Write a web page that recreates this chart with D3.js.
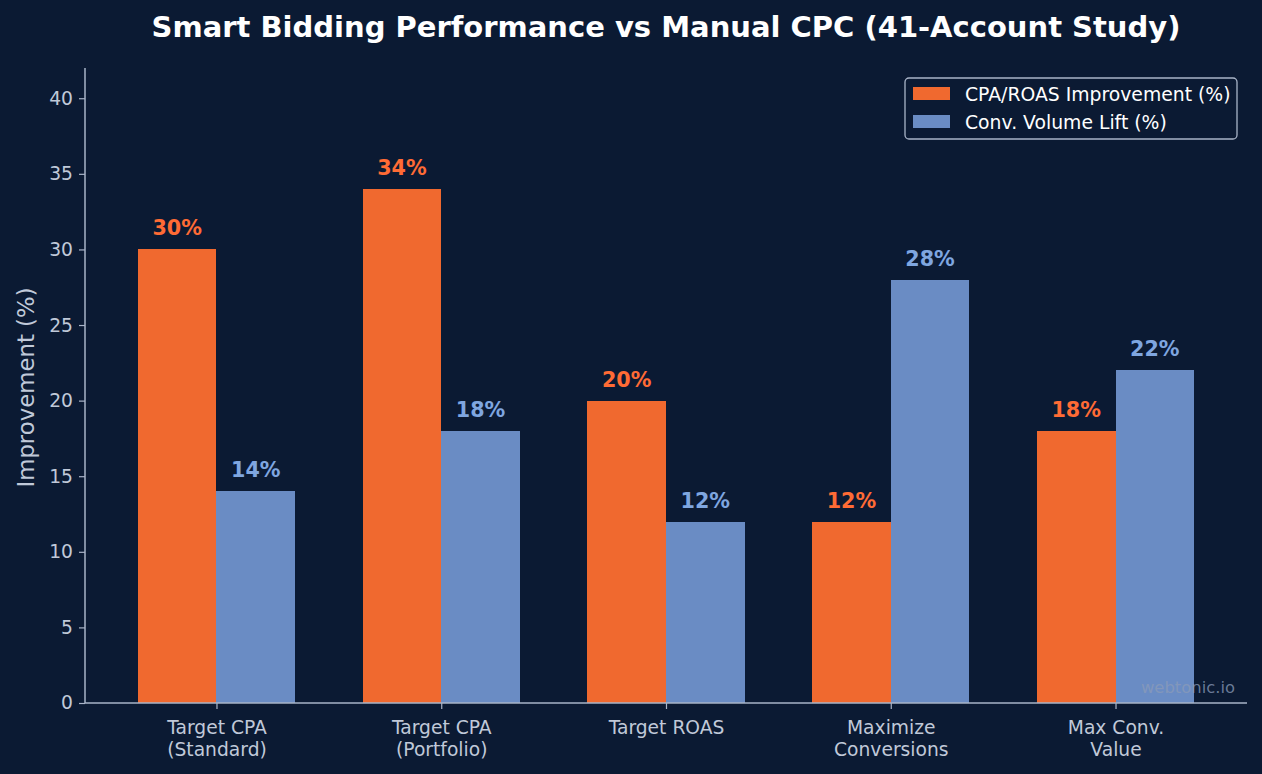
<!DOCTYPE html>
<html>
<head>
<meta charset="utf-8">
<script src="https://cdn.jsdelivr.net/npm/d3@7"></script>
<style>
  html, body { margin: 0; padding: 0; background: #0b1a33; }
  svg { display: block; font-family: "DejaVu Sans", sans-serif; }
</style>
</head>
<body>
<svg id="chart" width="1262" height="774"></svg>
<script>
const categories = [["Target CPA", "(Standard)"], ["Target CPA", "(Portfolio)"], ["Target ROAS"], ["Maximize", "Conversions"], ["Max Conv.", "Value"]];
const cpaRoas = [30, 34, 20, 12, 18];
const convLift = [14, 18, 12, 28, 22];
const seriesNames = ["CPA/ROAS Improvement (%)", "Conv. Volume Lift (%)"];
const yTicks = [0, 5, 10, 15, 20, 25, 30, 35, 40];

(function () {
const W = 1262, H = 774;
const bg = "#0b1a33";
const orange = "#f0692f", blue = "#6a8cc4";
const orangeText = "#ff6b35", blueText = "#7fa6e0";
const axisCol = "#a9b4c8", tickText = "#c0c9d9";

const svg = d3.select("#chart");
svg.append("rect").attr("width", W).attr("height", H).attr("fill", bg);

const mLeft = 85, mRight = 1247, mTop = 68, mBottom = 703;
const x = d3.scaleLinear().domain([-0.585, categories.length - 1 + 0.585]).range([mLeft, mRight]);
const y = d3.scaleLinear().domain([0, 42]).range([mBottom, mTop]);
const bw = 0.35;

const g = svg.append("g");

const series = [cpaRoas, convLift];
const cols = [orange, blue];
const txtCols = [orangeText, blueText];
series.forEach((vals, s) => {
  const off = s === 0 ? -bw : 0;
  g.selectAll(null).data(vals).enter().append("rect")
    .attr("x", (d, i) => x(i + off))
    .attr("width", (d, i) => x(i + off + bw) - x(i + off))
    .attr("y", d => y(d))
    .attr("height", d => y(0) - y(d))
    .attr("shape-rendering", "crispEdges")
    .attr("fill", cols[s]);
  g.selectAll(null).data(vals).enter().append("text")
    .attr("x", (d, i) => x(i + off + bw / 2))
    .attr("y", d => y(d) - 14)
    .attr("text-anchor", "middle")
    .attr("font-size", 20.7)
    .attr("font-weight", "bold")
    .attr("fill", txtCols[s])
    .text(d => d + "%");
});

const yAxis = d3.axisLeft(y).tickValues(yTicks).tickSize(6).tickPadding(6);
const ya = svg.append("g").attr("transform", `translate(${mLeft},0)`).call(yAxis);
ya.select(".domain").attr("stroke", axisCol).attr("stroke-width", 1.5).attr("d", `M0,${mTop}V${mBottom}`);
ya.selectAll(".tick line").attr("stroke", axisCol).attr("stroke-width", 1.2);
ya.selectAll(".tick text").attr("fill", tickText).attr("font-size", 18.7).attr("font-family", "DejaVu Sans");

const xAxis = d3.axisBottom(x).tickValues(d3.range(categories.length)).tickSize(6).tickFormat("");
const xa = svg.append("g").attr("transform", `translate(0,${mBottom})`).call(xAxis);
xa.select(".domain").attr("stroke", axisCol).attr("stroke-width", 1.5).attr("d", `M${mLeft},0H${mRight}`);
xa.selectAll(".tick line").attr("stroke", axisCol).attr("stroke-width", 1.2);
xa.selectAll(".tick").each(function(d) {
  const t = d3.select(this).append("text")
    .attr("fill", tickText).attr("font-size", 18.7).attr("text-anchor", "middle")
    .attr("font-family", "DejaVu Sans");
  categories[d].forEach((line, k) => {
    t.append("tspan").attr("x", 0).attr("y", 31 + k * 22.4).text(line);
  });
});

svg.append("text")
  .attr("transform", `translate(34,${(mTop + mBottom) / 2 + 2}) rotate(-90)`)
  .attr("text-anchor", "middle")
  .attr("font-size", 22.8)
  .attr("fill", tickText)
  .text("Improvement (%)");

svg.append("text")
  .attr("x", 666).attr("y", 37)
  .attr("text-anchor", "middle")
  .attr("font-size", 29)
  .attr("font-weight", "bold")
  .attr("fill", "#ffffff")
  .text("Smart Bidding Performance vs Manual CPC (41-Account Study)");

const lg = svg.append("g");
lg.append("rect").attr("x", 905).attr("y", 78).attr("width", 332).attr("height", 61)
  .attr("rx", 4).attr("fill", bg).attr("stroke", "#a9b4c8").attr("stroke-width", 1.3);
seriesNames.forEach((name, i) => {
  lg.append("rect").attr("x", 913).attr("y", 87 + i * 28).attr("width", 37).attr("height", 13).attr("fill", cols[i]);
  lg.append("text").attr("x", 965).attr("y", 100.5 + i * 28).attr("font-size", 18.8).attr("fill", "#ffffff").text(name);
});

svg.append("text")
  .attr("x", 1235).attr("y", 693)
  .attr("text-anchor", "end")
  .attr("font-size", 16.4)
  .attr("fill", "#8a9bb8").attr("fill-opacity", 0.75)
  .text("webtonic.io");
})();
</script>
</body>
</html>
